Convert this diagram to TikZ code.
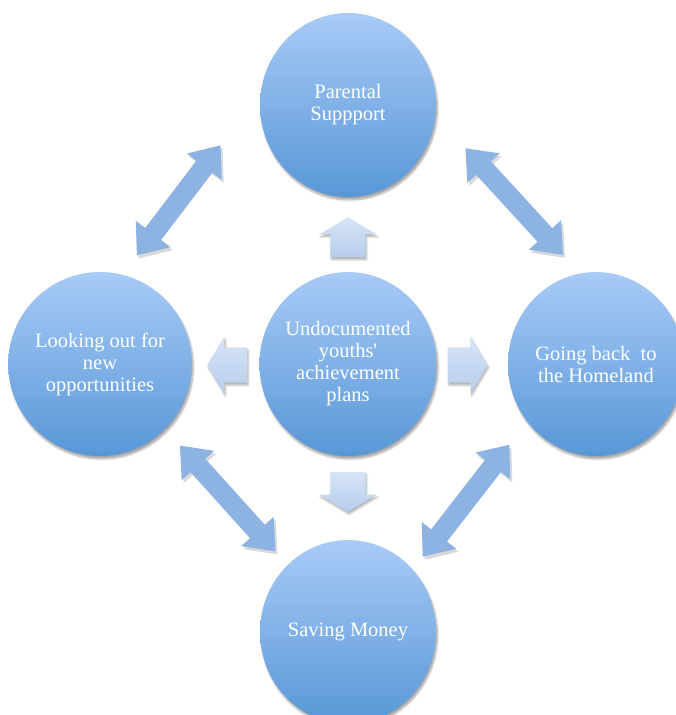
\documentclass[tikz,border=0pt]{standalone}
\usepackage{fontspec}
\setmainfont{Liberation Serif}
\usetikzlibrary{shapes.geometric,shapes.arrows,arrows.meta,shadows.blur}
\definecolor{bubbletop}{HTML}{A8CBF7}
\definecolor{bubblebot}{HTML}{5897D7}
\definecolor{hinttop}{HTML}{D6E4F7}
\definecolor{hintbot}{HTML}{B7CDEC}
\definecolor{linkblue}{HTML}{8DB3E2}

\begin{document}
\begin{tikzpicture}[x=1pt,y=1pt,
  bubble/.style={ellipse,minimum width=176pt,minimum height=184pt,inner sep=0pt,
    top color=bubbletop,bottom color=bubblebot,text=white,align=center,
    font=\fontsize{20.5}{22}\selectfont,
    blur shadow={shadow xshift=1.5pt,shadow yshift=-3pt,shadow opacity=35,shadow blur steps=8}},
  hint/.style={single arrow,minimum height=40pt,inner xsep=0pt,inner ysep=17.5pt,
    single arrow head extend=11pt,single arrow tip angle=118,
    top color=hinttop,bottom color=hintbot,
    blur shadow={shadow xshift=1pt,shadow yshift=-2.5pt,shadow opacity=30,shadow blur steps=6}},
  hintv/.style={hint,inner xsep=17.5pt,inner ysep=0pt},
  link/.style={draw=linkblue,line width=20pt,>={Triangle[width=42pt,length=27pt]},<->,
    preaction={draw=black!15,transform canvas={xshift=2pt,yshift=-3pt}}}]
\useasboundingbox (0,0) rectangle (675,715);
\node[bubble] (plans) at (348,351) {Undocumented\\youths\textquotesingle\\achievement\\plans};
\node[bubble] (parents) at (348,610) {Parental\\Suppport};
\node[bubble] (outlook) at (100,351) {Looking out for\\new\\opportunities};
\node[bubble] (homeland) at (596,351) {Going back~ to\\the Homeland};
\node[bubble] (savings) at (348,83) {Saving Money};
\node[hintv,shape border rotate=90,anchor=tip] (up) at (348,498) {};
\node[hintv,shape border rotate=270,anchor=tip] (down) at (348,203) {};
\node[hint,shape border rotate=180,anchor=tip] (back) at (207,350) {};
\node[hint,anchor=tip] (ahead) at (488,350) {};
\draw[link,shorten <=24pt,shorten >=66pt] (outlook.76) -- (parents.172);
\draw[link,shorten <=44pt,shorten >=25pt] (parents.353) -- (homeland.100);
\draw[link,shorten <=22pt,shorten >=18pt] (outlook.315) -- (savings.132);
\draw[link,shorten <=16pt,shorten >=29pt] (savings.44) -- (homeland.220);
\end{tikzpicture}
\end{document}
